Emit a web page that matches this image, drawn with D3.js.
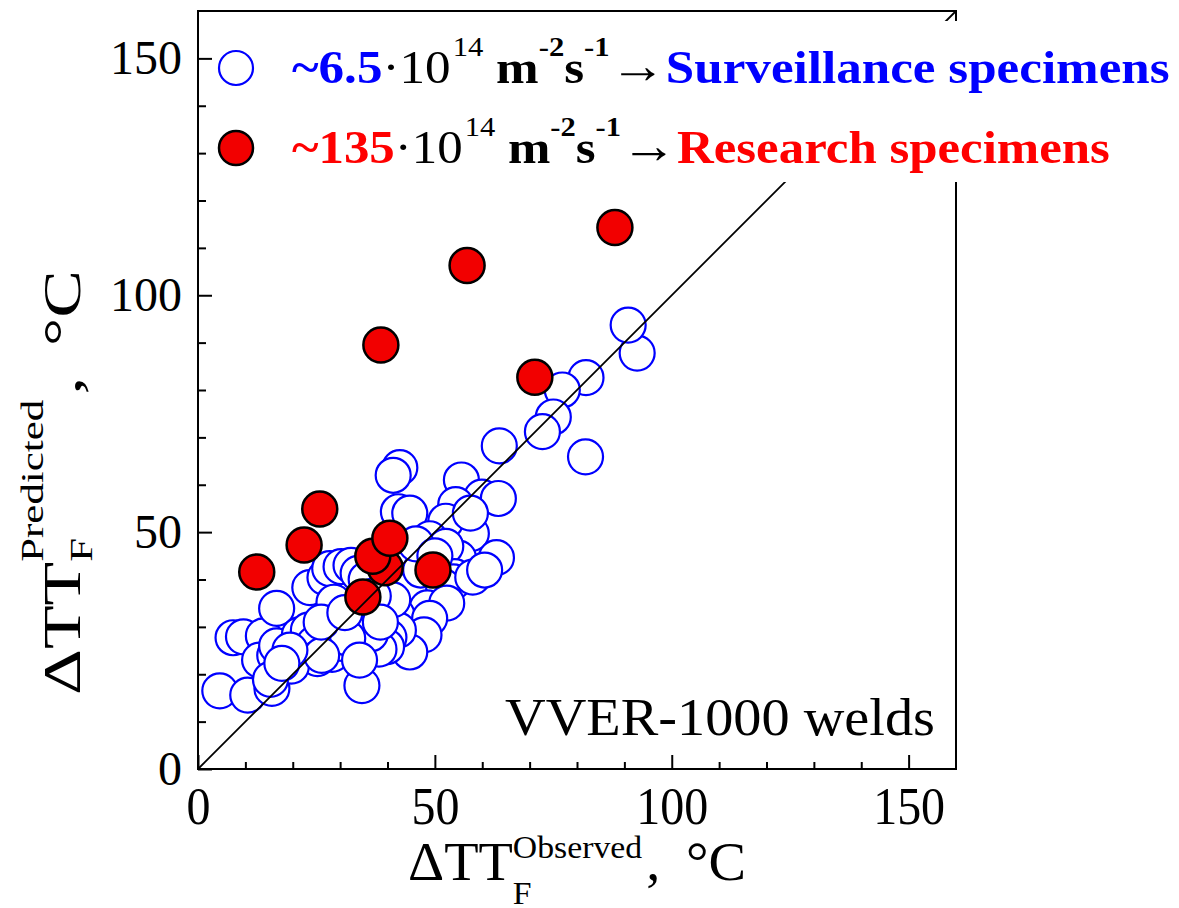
<!DOCTYPE html>
<html>
<head>
<meta charset="utf-8">
<script src="https://cdn.jsdelivr.net/npm/d3@7"></script>
<style>
  body { margin: 0; background: #fff; }
  svg { display: block; font-family: "Liberation Serif", "Times New Roman", serif; }
</style>
</head>
<body>
<div id="chart"></div>
<script>
// Surveillance specimens (open blue circles): observed vs predicted shift, deg C
const blueObserved = [
    92.7, 90.8, 81.8, 81.9, 76.9, 75.0, 72.7, 63.6, 42.6, 41.2,
    55.6, 59.9, 63.4, 54.4, 42.3, 44.7, 57.7, 52.3, 48.9, 63.0,
    55.0, 52.3, 54.2, 53.9, 51.8, 41.0, 44.5, 48.4, 52.5, 42.0,
    48.9, 36.6, 47.7, 44.7, 42.3, 40.3, 39.8, 38.2, 34.6, 33.8,
    36.4, 41.1, 4.6, 10.5, 15.6, 7.4, 9.6, 13.8, 13.0, 16.2,
    16.6, 16.6, 21.4, 23.3, 24.5, 25.2, 19.7, 15.3, 28.3, 23.6,
    26.8, 27.8, 28.7, 30.2, 32.3, 33.8, 28.8, 30.3, 31.6, 34.1,
    26.1, 19.4, 17.7, 35.5, 37.0, 45.5, 47.0, 58.0, 60.5, 46.0,
    50.0, 57.5, 38.5, 26.0, 31.0
];
const bluePredicted = [
    87.8, 93.7, 65.9, 82.6, 80.0, 74.3, 71.2, 68.2, 63.6, 62.0,
    61.0, 57.4, 57.1, 55.8, 54.3, 54.0, 49.7, 52.3, 48.6, 44.6,
    44.5, 47.0, 40.6, 39.5, 38.5, 38.6, 37.8, 34.0, 35.0, 32.5,
    31.8, 32.8, 28.3, 24.7, 29.3, 27.8, 25.8, 25.3, 17.6, 27.2,
    28.5, 35.7, 16.5, 15.6, 17.0, 27.7, 27.9, 28.1, 23.0, 24.0,
    26.0, 33.9, 28.3, 29.3, 26.4, 23.3, 21.7, 18.9, 24.2, 38.3,
    40.4, 42.3, 35.2, 42.7, 43.0, 41.3, 26.5, 26.5, 27.6, 23.0,
    24.0, 25.1, 22.3, 40.0, 36.5, 44.0, 42.0, 40.5, 42.0, 47.5,
    45.0, 54.0, 31.0, 31.0, 33.0
];

// Research specimens (filled red circles)
const redObserved  = [88.0, 56.8, 38.6, 71.1, 25.7, 22.4, 12.4, 49.6, 39.5, 36.9, 40.5, 34.8];
const redPredicted = [114.3, 106.3, 89.5, 82.7, 54.9, 47.3, 41.6, 42.0, 42.5, 44.9, 48.7, 36.3];

const majorTicks = [0, 50, 100, 150];
const minorTicks = [10, 20, 30, 40, 60, 70, 80, 90, 110, 120, 130, 140];
const axisMax = 160;

const width = 1179, height = 908;
const plot = {left: 198, right: 956, top: 11, bottom: 769};

const svg = d3.select('#chart').append('svg')
    .attr('width', width)
    .attr('height', height);

const xScale = d3.scaleLinear().domain([0, axisMax]).range([plot.left, plot.right]);
const yScale = d3.scaleLinear().domain([0, axisMax]).range([plot.bottom, plot.top]);

// stretch a group horizontally so that its content spans the wanted length
function fitWidth(g, target) {
    const w = g.node().getBBox().width;
    g.attr('transform', 'scale(' + (target / w) + ',1)');
}

// Axes: ticks point inward, labels outside
function styleAxis(g) {
    g.select('.domain').remove();
    g.attr('font-family', null).attr('font-size', null);
    g.selectAll('line').attr('stroke', '#000').attr('stroke-width', 2);
    g.selectAll('text').attr('font-size', 48).attr('fill', '#000');
}

svg.append('g')
    .attr('transform', 'translate(0,' + plot.bottom + ')')
    .call(d3.axisBottom(xScale).tickValues(minorTicks).tickSize(-7).tickSizeOuter(0).tickFormat(''))
    .call(styleAxis);

let xAxisG = svg.append('g')
    .attr('transform', 'translate(0,' + plot.bottom + ')')
    .call(d3.axisBottom(xScale).tickValues(majorTicks).tickSize(-14).tickSizeOuter(0).tickPadding(17))
    .call(styleAxis);
xAxisG.selectAll('text').attr('transform', 'scale(1,1.08)');

svg.append('g')
    .attr('transform', 'translate(' + plot.left + ',0)')
    .call(d3.axisLeft(yScale).tickValues(minorTicks).tickSize(-8).tickSizeOuter(0).tickFormat(''))
    .call(styleAxis);

svg.append('g')
    .attr('transform', 'translate(' + plot.left + ',0)')
    .call(d3.axisLeft(yScale).tickValues(majorTicks).tickSize(-14).tickSizeOuter(0).tickPadding(16))
    .call(styleAxis);

// Frame
svg.append('rect')
    .attr('x', plot.left)
    .attr('y', plot.top)
    .attr('width', plot.right - plot.left)
    .attr('height', plot.bottom - plot.top)
    .attr('fill', 'none')
    .attr('stroke', '#000')
    .attr('stroke-width', 2);

// Points
const blueData = blueObserved.map((d, i) => [d, bluePredicted[i]]);
const redData = redObserved.map((d, i) => [d, redPredicted[i]]);

svg.append('g').selectAll('circle')
    .data(blueData)
    .enter().append('circle')
    .attr('cx', d => xScale(d[0]))
    .attr('cy', d => yScale(d[1]))
    .attr('r', 17.5)
    .attr('fill', '#fff')
    .attr('stroke', '#0000ff')
    .attr('stroke-width', 2.2);

svg.append('g').selectAll('circle')
    .data(redData)
    .enter().append('circle')
    .attr('cx', d => xScale(d[0]))
    .attr('cy', d => yScale(d[1]))
    .attr('r', 17.5)
    .attr('fill', '#f20000')
    .attr('stroke', '#000')
    .attr('stroke-width', 2.5);

// 1:1 line
svg.append('line')
    .attr('x1', xScale(0)).attr('y1', yScale(0))
    .attr('x2', xScale(axisMax)).attr('y2', yScale(axisMax))
    .attr('stroke', '#000')
    .attr('stroke-width', 1.8);

// Legend (white box hides the line and right axis behind it)
svg.append('rect')
    .attr('x', 214).attr('y', 21)
    .attr('width', width - 214).attr('height', 161)
    .attr('fill', '#fff');

svg.append('circle')
    .attr('cx', 236).attr('cy', 68).attr('r', 17)
    .attr('fill', '#fff').attr('stroke', '#0000ff').attr('stroke-width', 2.2);
svg.append('circle')
    .attr('cx', 236).attr('cy', 148).attr('r', 17)
    .attr('fill', '#f20000').attr('stroke', '#000').attr('stroke-width', 2.5);

function legendLine(x, y, flux, label, color, target) {
    const fs = 47, sup = fs * 0.6, up = fs * 0.58;
    const g = svg.append('g').attr('transform', 'translate(' + x + ',' + y + ')');
    const inner = g.append('g');
    const t = inner.append('text').attr('font-size', fs);
    t.append('tspan').attr('font-weight', 'bold').attr('fill', color).text('~' + flux);
    t.append('tspan').text('\u00b710');
    t.append('tspan').attr('font-size', sup).attr('dy', -up).attr('dx', 2).text('14');
    t.append('tspan').attr('font-weight', 'bold').attr('dy', up).text('\u00a0m');
    t.append('tspan').attr('font-weight', 'bold').attr('font-size', sup).attr('dy', -up).text('-2');
    t.append('tspan').attr('font-weight', 'bold').attr('dy', up).text('s');
    t.append('tspan').attr('font-weight', 'bold').attr('font-size', sup).attr('dy', -up).text('-1');
    t.append('tspan').attr('dy', up).attr('font-size', fs * 1.1).text('\u2192');
    t.append('tspan').attr('font-weight', 'bold').attr('fill', color).text(label);
    fitWidth(inner, target);
}

legendLine(292, 83, '6.5', 'Surveillance specimens', '#0000ff', 878);
legendLine(292, 163, '135', 'Research specimens', '#ff0000', 818);

// Axis titles: ΔTT with stacked subscript F and superscript
function axisTitle(g, sup, fs, subY, supY, unitGap, target) {
    const inner = g.append('g');
    const main = inner.append('text').attr('font-size', fs).text('\u0394TT');
    const w0 = main.node().getComputedTextLength();
    inner.append('text').attr('x', w0).attr('y', fs * subY).attr('font-size', fs * 0.6).text('F');
    const supT = inner.append('text').attr('x', w0).attr('y', fs * supY).attr('font-size', fs * 0.6).text(sup);
    const w1 = w0 + supT.node().getComputedTextLength();
    inner.append('text').attr('x', w1 + 4).attr('font-size', fs).text(',');
    inner.append('text').attr('x', w1 + fs * unitGap).attr('font-size', fs).text('\u00b0C');
    fitWidth(inner, target);
}

axisTitle(svg.append('g').attr('transform', 'translate(408,880)'), 'Observed', 54, 0.44, -0.4, 0.78, 338);
axisTitle(svg.append('g').attr('transform', 'translate(80,695) rotate(-90)'), 'Predicted', 53, 0.23, -0.7, 0.75, 425);

// Annotation
const note = svg.append('g').attr('transform', 'translate(505,735)');
const noteInner = note.append('g');
noteInner.append('text').attr('font-size', 52).text('VVER-1000 welds');
fitWidth(noteInner, 430);
</script>
</body>
</html>
